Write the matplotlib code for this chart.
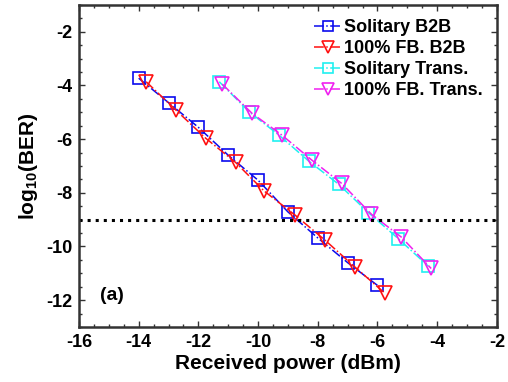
import numpy as np
import matplotlib
matplotlib.use('Agg')
import matplotlib.pyplot as plt
from matplotlib.ticker import MultipleLocator

plt.rcParams['font.family'] = ['Liberation Sans', 'DejaVu Sans']
plt.rcParams['font.weight'] = 'bold'
plt.rcParams['axes.unicode_minus'] = False
plt.rcParams['mathtext.fontset'] = 'custom'
plt.rcParams['mathtext.bf'] = 'Liberation Sans:bold'
plt.rcParams['mathtext.rm'] = 'Liberation Sans:bold'
plt.rcParams['mathtext.default'] = 'bf'

# data
sol_b2b_x = [-14, -13, -12, -11, -10, -9, -8, -7, -6]
sol_b2b_y = [-3.73, -4.64, -5.56, -6.60, -7.53, -8.71, -9.68, -10.60, -11.45]

fb_b2b_x = [-13.75, -12.75, -11.75, -10.75, -9.8, -8.75, -7.75, -6.75, -5.75]
fb_b2b_y = [-3.86, -4.92, -5.97, -6.87, -7.93, -8.84, -9.77, -10.77, -11.74]

sol_tr_x = [-11.3, -10.3, -9.3, -8.3, -7.3, -6.3, -5.3, -4.3]
sol_tr_y = [-3.86, -4.98, -5.85, -6.82, -7.68, -8.74, -9.71, -10.73]

fb_tr_x = [-11.2, -10.2, -9.2, -8.2, -7.2, -6.2, -5.2, -4.2]
fb_tr_y = [-3.95, -5.04, -5.85, -6.78, -7.65, -8.80, -9.65, -10.82]

threshold = -9

fig = plt.figure(figsize=(5.08, 3.82), dpi=100)
ax = fig.add_axes([0.1555, 0.144, 0.8225, 0.843])

ax.plot(sol_b2b_x, sol_b2b_y, '-.', color='#0a0aee', marker='s', ms=8,
        mfc='none', mew=1.2, lw=1.1, label='Solitary B2B')
ax.plot(fb_b2b_x, fb_b2b_y, '-.', color='#ff1010', marker='v', ms=10.5,
        mfc='none', mew=1.2, lw=1.1, label='100% FB. B2B')
ax.plot(sol_tr_x, sol_tr_y, '-.', color='#20f0f0', marker='s', ms=8,
        mfc='none', mew=1.2, lw=1.1, label='Solitary Trans.')
ax.plot(fb_tr_x, fb_tr_y, '-.', color='#f020f0', marker='v', ms=10.5,
        mfc='none', mew=1.2, lw=1.1, label='100% FB. Trans.')

ax.axhline(threshold, color='k', ls=':', lw=2.2)

ax.set_xlim(-16, -2)
ax.set_ylim(-13, -1)
ax.xaxis.set_major_locator(MultipleLocator(2))
ax.xaxis.set_minor_locator(MultipleLocator(0.5))
ax.yaxis.set_major_locator(MultipleLocator(2))
ax.yaxis.set_minor_locator(MultipleLocator(0.5))
ax.tick_params(which='both', direction='in', top=True, right=True,
               labelsize=13, color='#333333')
ax.tick_params(which='major', length=4, width=1, pad=5)
ax.tick_params(which='minor', length=2, width=1)
for s in ax.spines.values():
    s.set_linewidth(1.8)
    s.set_color('#333333')

ax.set_xlabel('Received power (dBm)', fontsize=15, fontweight='bold', labelpad=2)
ax.set_ylabel(r'log$_{10}$(BER)', fontsize=15, fontweight='bold', labelpad=4)

ax.text(-15.3, -11.82, '(a)', fontsize=14, fontweight='bold', va='center')

leg = ax.legend(loc='upper left', bbox_to_anchor=(0.563, 0.955), frameon=False,
                fontsize=13, handlelength=1.5, handletextpad=0.15,
                labelspacing=0.22, borderaxespad=0, borderpad=0,
                markerscale=0.85)

fig.savefig('out.png', dpi=100)
